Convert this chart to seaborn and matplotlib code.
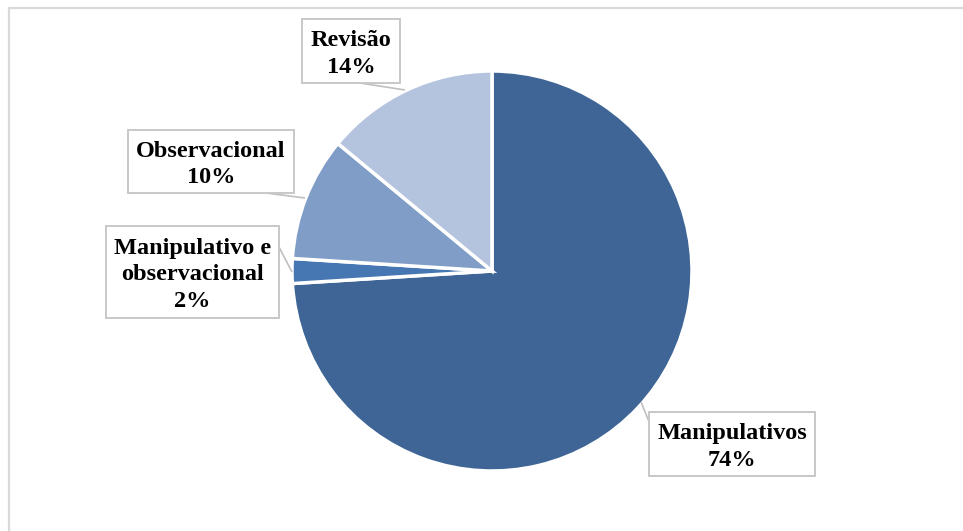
import matplotlib
matplotlib.use("Agg")
import matplotlib.pyplot as plt
from matplotlib.patches import Rectangle
import seaborn as sns

# Study types and their shares (%)
categories = ["Manipulativos", "Manipulativo e\nobservacional", "Observacional", "Revisão"]
shares = [74, 2, 10, 14]
colors = ["#3E6596", "#4677B3", "#809DC8", "#B4C3DE"]

sns.set_theme(style="white")
plt.rcParams["font.family"] = ["Liberation Serif", "DejaVu Serif"]

W, H = 963, 531
CX, CY, R = 492, 271, 200  # pie centre and radius in pixels


def px(x, y):
    """Pixel position -> data coordinates (pie radius = 1)."""
    return (x - CX) / R, (CY - y) / R


fig = plt.figure(figsize=(W / 100, H / 100), dpi=100)
ax = fig.add_axes([0, 0, 1, 1])

ax.pie(shares, colors=colors, startangle=90, counterclock=False, radius=1,
       wedgeprops=dict(edgecolor="white", linewidth=2.5))

ax.set_xlim(-CX / R, (W - CX) / R)
ax.set_ylim((CY - H) / R, CY / R)
ax.set_aspect("equal")
ax.axis("off")

# outer chart frame
fig.patches.append(Rectangle((9 / W, -0.1), 1.2, 1 - 7.5 / H + 0.1,
                             transform=fig.transFigure, fill=False,
                             edgecolor="#D9D9D9", linewidth=1.6))

# label boxes (pixel extents) and leader lines
boxes = {
    "Manipulativos": (649, 412, 815, 476),
    "Manipulativo e\nobservacional": (106, 226, 279, 318),
    "Observacional": (128, 130, 294, 193),
    "Revisão": (302, 19, 400, 83),
}
leaders = {
    "Manipulativos": ((650, 424), (641, 402)),
    "Manipulativo e\nobservacional": ((279, 247), (292, 272)),
    "Observacional": ((266, 193), (305, 198)),
    "Revisão": ((360, 83), (405, 90)),
}

for cat, val in zip(categories, shares):
    x0, y0, x1, y1 = boxes[cat]
    (ax0, ay0) = px(x0, y1)
    (ax1, ay1) = px(x1, y0)
    ax.add_patch(Rectangle((ax0, ay0), ax1 - ax0, ay1 - ay0, facecolor="white",
                           edgecolor="#C8C8C8", linewidth=1.4, zorder=3))
    (lx0, ly0), (lx1, ly1) = leaders[cat]
    p0, p1 = px(lx0, ly0), px(lx1, ly1)
    ax.plot([p0[0], p1[0]], [p0[1], p1[1]], color="#BFBFBF", linewidth=1.2,
            zorder=2, solid_capstyle="butt")
    cx, cy = px((x0 + x1) / 2, (y0 + y1) / 2 + 3)
    ax.text(cx, cy, f"{cat}\n{val}%", ha="center", va="center",
            fontsize=17.5, fontweight="bold", color="black",
            linespacing=1.36, zorder=4)

fig.savefig("out.png", dpi=100)
